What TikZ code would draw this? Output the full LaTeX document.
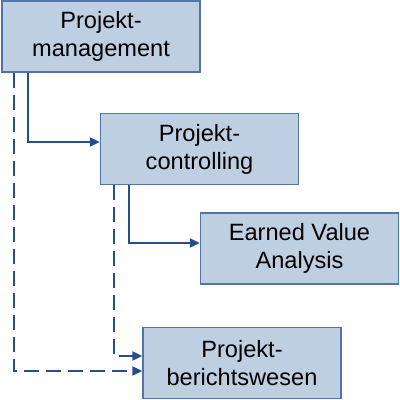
\documentclass[tikz,border=0pt]{standalone}
\usepackage{fontspec}
\setmainfont{Liberation Sans}
\usetikzlibrary{arrows.meta}
\definecolor{boxfill}{RGB}{191,207,226}
\definecolor{boxline}{RGB}{82,117,165}
\definecolor{arrowblue}{RGB}{38,78,138}
\begin{document}
\begin{tikzpicture}[x=1pt, y=-1pt,
        orgbox/.style={rectangle, draw=boxline, fill=boxfill, line width=1.3pt, minimum width=198pt, minimum height=71pt, align=center, font=\fontsize{23.6}{28}\selectfont},
        linkarrow/.style={draw=arrowblue, line width=2pt, -{Triangle[length=10pt,width=9pt]}},
        dashlink/.style={linkarrow, dash pattern=on 15pt off 7pt},
    ]
        \useasboundingbox (0,0) rectangle (400,400);

        %Nodes
        \node[orgbox] (pm) at (101,36.5) {Projekt-\\management};
        \node[orgbox] (pc) at (199.5,149) {Projekt-\\controlling};
        \node[orgbox] (eva) at (299.5,248.5) {Earned Value\\Analysis};
        \node[orgbox] (pb) at (242,363) {Projekt-\\berichtswesen};

        %Lines
        \draw[linkarrow] ([xshift=27pt]pm.south west) |- ([yshift=7pt]pc.west);
        \draw[linkarrow] ([xshift=29pt]pc.south west) |- ([yshift=5.5pt]eva.west);

        % reporting
        \draw[dashlink] ([xshift=13pt]pm.south west) |- ([yshift=-8pt]pb.west);
        \draw[dashlink] ([xshift=14pt]pc.south west) |- ([yshift=7pt]pb.west);
    \end{tikzpicture}
\end{document}
